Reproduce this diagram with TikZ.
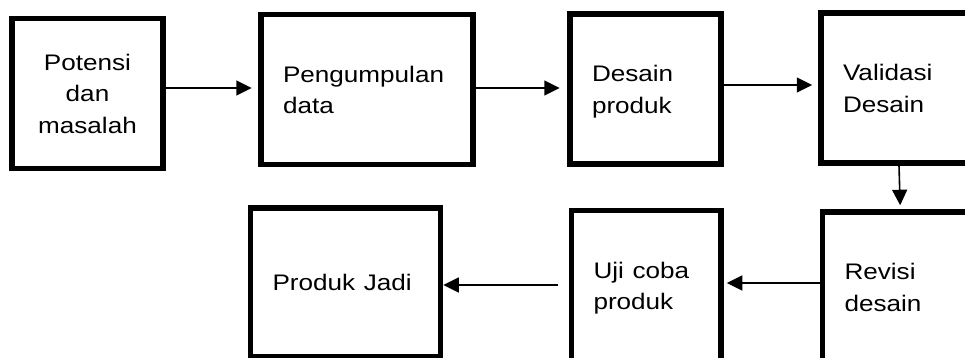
\documentclass[tikz,border=0pt]{standalone}
\usepackage{fontspec}
\setmainfont{Liberation Sans}
\usetikzlibrary{arrows.meta}
\newcommand{\wtext}[2]{\raisebox{-2pt}[\height][\depth]{\scalebox{1.16}[1]{\begin{tabular}{@{}#1@{}}#2\end{tabular}}}}
\tikzset{
  stepbox/.style={draw, line width=5.5pt, inner sep=0pt, minimum height=150pt,
    font=\fontsize{22.5}{31.5}\selectfont},
  arr/.style={line width=1.6pt, -{Triangle[length=15.5pt,width=15pt]}}
}

\begin{document}
\begin{tikzpicture}[x=1pt,y=1pt]
    \clip (0,0) rectangle (965,358);
    % row1
    \node[stepbox, minimum width=151pt] (potensi) at (87.5,264.5) {\wtext{c}{Potensi\\dan\\masalah}};
    \node[stepbox, minimum width=212pt, text width=168pt, align=left] (data) at (367,268.5) {\wtext{l}{Pengumpulan\\data}};
    \node[stepbox, minimum width=151pt, text width=107pt, align=left] (desain) at (645.5,269) {\wtext{l}{Desain\\produk}};
    \node[stepbox, minimum width=156pt, text width=112pt, align=left] (validasi) at (899,270) {\wtext{l}{Validasi\\Desain}};
    % row2
    \node[stepbox, minimum width=155.5pt, text width=111.5pt, align=left] (revisi) at (900.25,71) {\wtext{l}{Revisi\\desain}};
    \node[stepbox, minimum width=149.5pt, text width=105.5pt, align=left] (ujicoba) at (646.25,72.25) {\wtext{l}{Uji coba\\produk}};
    \node[stepbox, minimum width=190pt, minimum height=149pt, text width=146pt, align=left] (jadi) at (345.5,75.5) {\wtext{l}{Produk Jadi}};

    % arrows for row1
    \draw[arr, shorten >=6.5pt] ([yshift=5.5pt]potensi.east) -- ([yshift=5.5pt]potensi.east -| data.west);
    \draw[arr, shorten >=7.5pt] ([yshift=1.5pt]data.east) -- ([yshift=1.5pt]data.east -| desain.west);
    \draw[arr, shorten >=6pt] ([yshift=4pt]desain.east) -- ([yshift=4pt]desain.east -| validasi.west);
    % down to row2
    \draw[arr, shorten >=4pt] (validasi.south) -- (revisi.north);
    % arrows for row2
    \draw[arr, shorten >=3pt] ([yshift=4pt]revisi.west) -- ([yshift=4pt]revisi.west -| ujicoba.east);
    \draw[arr] ([xshift=-11pt,yshift=0.75pt]ujicoba.west) -- ([yshift=0.75pt]ujicoba.west -| jadi.east);
\end{tikzpicture}
\end{document}
